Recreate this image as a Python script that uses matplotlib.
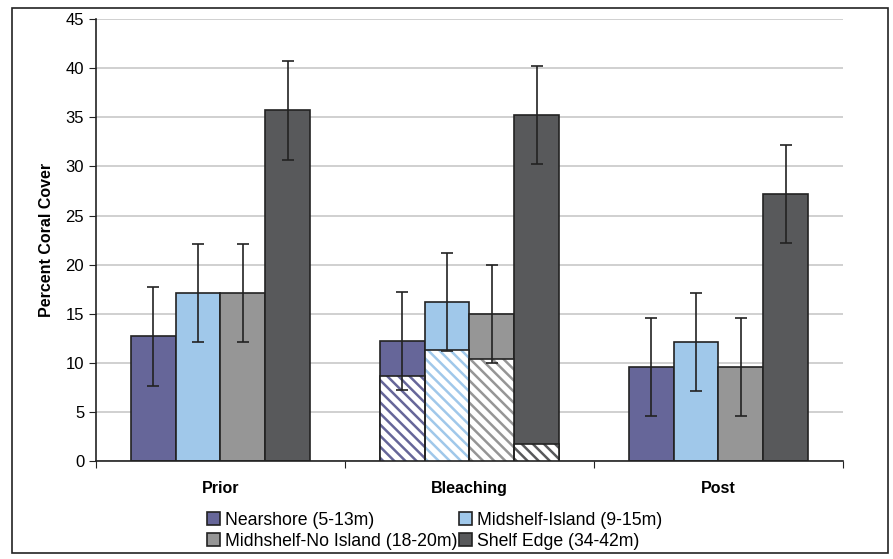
import numpy as np
import matplotlib
matplotlib.use('Agg')
import matplotlib.pyplot as plt
from matplotlib.patches import Rectangle

plt.rcParams['font.family'] = ['Liberation Sans', 'DejaVu Sans']
plt.rcParams['hatch.linewidth'] = 1.8

periods = ['Prior', 'Bleaching', 'Post']
zonas = ['Nearshore (5-13m)', 'Midshelf-Island (9-15m)',
         'Midhshelf-No Island (18-20m)', 'Shelf Edge (34-42m)']
colores = ['#666699', '#a0c8ea', '#969696', '#58595b']

# cobertura total por zona (filas) y periodo (columnas)
cover = [[12.7, 12.2, 9.6],
         [17.1, 16.2, 12.1],
         [17.1, 15.0, 9.6],
         [35.7, 35.2, 27.2]]
errores = [[5, 5, 5],
           [5, 5, 5],
           [5, 5, 5],
           [5, 5, 5]]
# parte blanqueada (rayada) durante Bleaching
blanqueado = [8.7, 11.3, 10.4, 1.7]

fig = plt.figure(figsize=(8.93, 5.59), dpi=100)
ax = fig.add_axes([0.1075, 0.175, 0.8365, 0.791])

x = np.arange(len(periods))
w = 0.18
handles = []
for i in range(len(zonas)):
    pos = x + (i - 1.5) * w
    b = ax.bar(pos, cover[i], w, color=colores[i], edgecolor='#222222',
               linewidth=1.2, label=zonas[i], zorder=2)
    handles.append(b)
    ax.bar(pos[1], blanqueado[i], w, color='white', edgecolor=colores[i],
           hatch='\\\\\\', linewidth=0, zorder=3)
    ax.bar(pos[1], blanqueado[i], w, color='none', edgecolor='#222222',
           linewidth=1.2, zorder=4)
    ax.errorbar(pos, cover[i], yerr=errores[i], fmt='none', ecolor='#222222',
                elinewidth=1.2, capsize=4.5, capthick=1.2, zorder=5)

ax.set_xlim(-0.5, 2.5)
ax.set_ylim(0, 45)
ax.set_yticks(range(0, 46, 5))
ax.yaxis.grid(True, color='#c8c8c8', linewidth=1.2)
ax.set_axisbelow(True)
ax.set_xticks([-0.5, 0.5, 1.5, 2.5])
ax.set_xticklabels([])
ax.set_xticks(x, minor=True)
ax.set_xticklabels(periods, minor=True, fontweight='bold', fontsize=11.5)
ax.tick_params(axis='x', which='minor', length=0, pad=14)
ax.tick_params(axis='x', which='major', length=5, color='#222222')
ax.tick_params(axis='y', length=5, labelsize=12, color='#222222')
for s in ['top', 'right']:
    ax.spines[s].set_visible(False)
for s in ['left', 'bottom']:
    ax.spines[s].set_color('#222222')
    ax.spines[s].set_linewidth(1.2)
ax.set_ylabel('Percent Coral Cover', fontweight='bold', fontsize=11.5,
              labelpad=8)

# orden por filas como en el original
orden = [0, 2, 1, 3]
ax.legend([handles[k] for k in orden], [zonas[k] for k in orden],
          loc='upper center', bbox_to_anchor=(0.453, -0.098), ncol=2,
          frameon=False, fontsize=12.7, handlelength=0.75, handleheight=0.75,
          handletextpad=0.25, columnspacing=0.1, labelspacing=0.25,
          borderaxespad=0)

fig.patches.append(Rectangle((0.0135, 0.01), 0.981, 0.975,
                             transform=fig.transFigure, fill=False,
                             edgecolor='#222222', linewidth=1.2))

fig.savefig('out.png', dpi=100)
